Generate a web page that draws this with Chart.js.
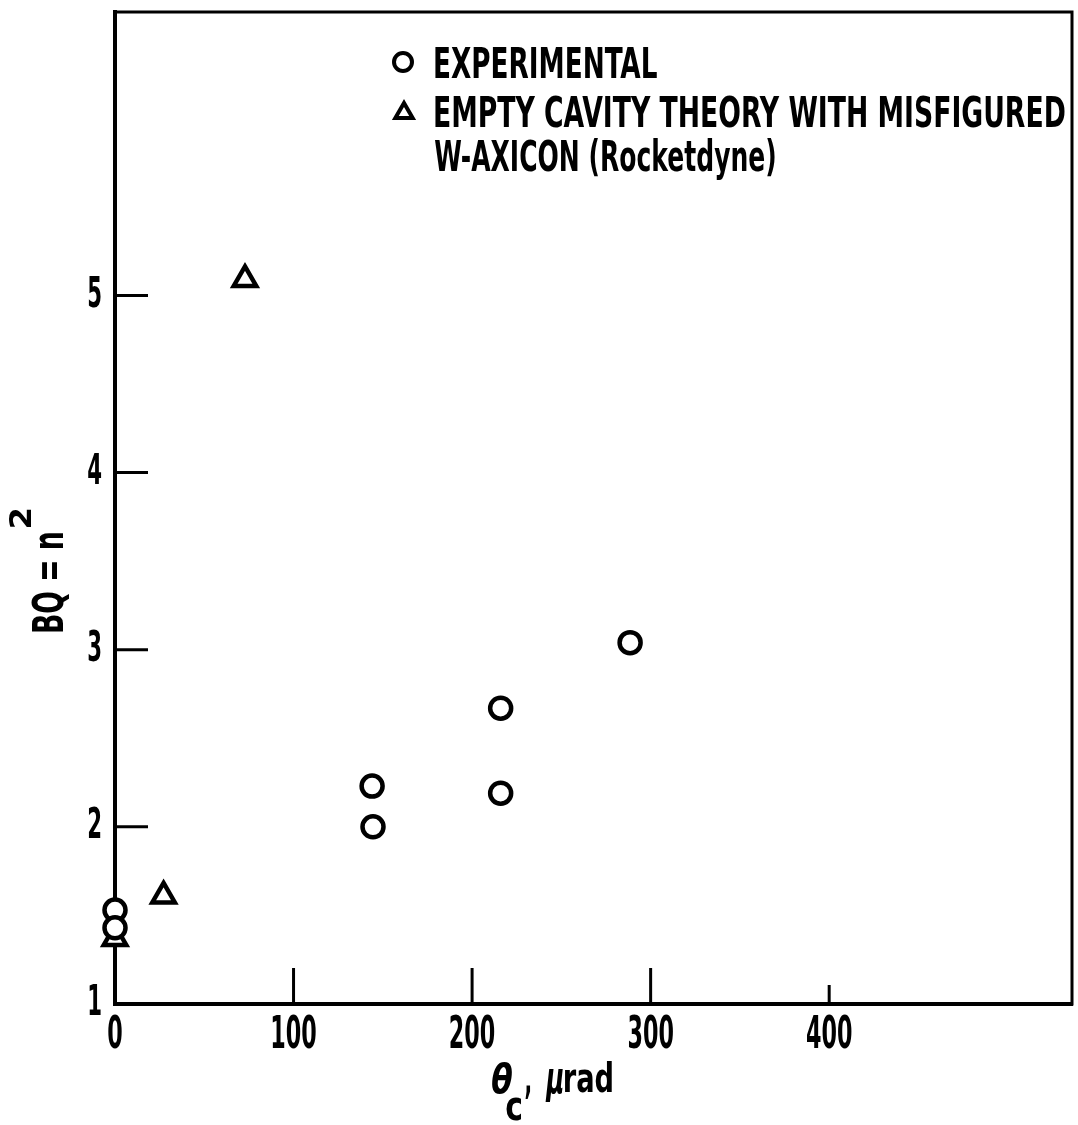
<!DOCTYPE html>
<html><head><meta charset="utf-8">
<script src="https://cdn.jsdelivr.net/npm/chart.js@4"></script>
<style>html,body{margin:0;padding:0;background:#fff;overflow:hidden}#wrap{width:1078px;height:1125px;position:relative;overflow:hidden}canvas{display:block}</style>
</head><body><div id="wrap"><canvas id="c" width="1078" height="1125" style="width:1078px;height:1125px"></canvas></div>
<script>
// ---- data ----
const xTickValues = [0, 100, 200, 300, 400];
const yTickValues = [1, 2, 3, 4, 5];
const expX = [288.5, 216, 144, 216, 144.5, 0, 0];
const expY = [3.04, 2.67, 2.23, 2.19, 2.00, 1.53, 1.43];
const theoryX = [72.8, 27.2, 0];
const theoryY = [5.09, 1.61, 1.37];
const legendLines = ['EXPERIMENTAL', 'EMPTY CAVITY THEORY WITH MISFIGURED', 'W-AXICON (Rocketdyne)'];
const seriesNames = ['EXPERIMENTAL', 'EMPTY CAVITY THEORY WITH MISFIGURED W-AXICON (Rocketdyne)'];

// ---- font pick ----
function hasFont(f){
  const c=document.createElement('canvas').getContext('2d');
  const t='abcdefghijklmnopqrstuvwxyzABCDEFGHIJKLMNOPQRSTUVWXYZ0123456789';
  c.font='bold 40px monospace'; const a=c.measureText(t).width;
  c.font='bold 40px "'+f+'", monospace'; const b=c.measureText(t).width;
  c.font='bold 40px serif'; const a2=c.measureText(t).width;
  c.font='bold 40px "'+f+'", serif'; const b2=c.measureText(t).width;
  return a!==b || a2!==b2;
}
const FAM = ['Liberation Sans Narrow','DejaVu Sans Condensed','Roboto Condensed','Liberation Sans','DejaVu Sans'].find(hasFont) || 'sans-serif';
const TICK_SIZE = 45;
const TICK_SQUEEZE = (function(){
  const c=document.createElement('canvas').getContext('2d');
  c.font='bold '+TICK_SIZE+'px "'+FAM+'"';
  return 15.5 / c.measureText('0').width;
})();

function fitText(ctx, text, x, y, w, font){
  ctx.save();
  ctx.font = font; ctx.textAlign='left'; ctx.textBaseline='alphabetic';
  const m = ctx.measureText(text);
  const ink = m.actualBoundingBoxRight + m.actualBoundingBoxLeft;
  const s = w / ink;
  ctx.translate(x, y); ctx.scale(s, 1);
  ctx.fillText(text, m.actualBoundingBoxLeft, 0);
  ctx.restore();
}

let _origRotate = null;
const decor = {
  id: 'decor',
  beforeDraw(chart){
    // tick labels are rendered by Chart.js; squeeze them horizontally like the condensed original type
    const ctx = chart.ctx;
    _origRotate = ctx.rotate;
    ctx.rotate = function(a){ _origRotate.call(this, a); this.scale(TICK_SQUEEZE, 1); };
  },
  beforeDatasetsDraw(chart){
    const ctx=chart.ctx, a=chart.chartArea, xs=chart.scales.x, ys=chart.scales.y;
    if(_origRotate){ ctx.rotate = _origRotate; _origRotate = null; }
    ctx.save();
    ctx.strokeStyle='#000'; ctx.lineCap='square';
    ctx.lineWidth=3;
    ctx.beginPath(); ctx.moveTo(a.left, a.top); ctx.lineTo(a.right, a.top); ctx.lineTo(a.right, a.bottom); ctx.stroke();
    ctx.lineCap='butt';
    xTickValues.forEach(v=>{
      if(v===xs.min) return;
      const px=xs.getPixelForValue(v), len = (v===400)?19:36;
      ctx.beginPath(); ctx.moveTo(px, a.bottom); ctx.lineTo(px, a.bottom-len); ctx.stroke();
    });
    yTickValues.forEach(v=>{
      if(v===ys.min) return;
      const py=ys.getPixelForValue(v);
      ctx.beginPath(); ctx.moveTo(a.left, py); ctx.lineTo(a.left+33, py); ctx.stroke();
    });
    ctx.restore();
  },
  afterDraw(chart){
    const ctx=chart.ctx;
    if(_origRotate){ ctx.rotate = _origRotate; _origRotate = null; }
    ctx.save();
    // legend
    ctx.strokeStyle='#000'; ctx.lineWidth=4;
    ctx.fillStyle='#fff';
    Chart.helpers.drawPoint(ctx,{pointStyle:'circle',radius:9,borderWidth:4,rotation:0},403,62);
    Chart.helpers.drawPoint(ctx,{pointStyle:'triangle',radius:10,borderWidth:4,rotation:0},404,113);
    ctx.fillStyle='#000';
    const LF='bold 43px "'+FAM+'"';
    fitText(ctx, legendLines[0], 435, 78, 222, LF);
    fitText(ctx, legendLines[1], 435, 127, 630, LF);
    fitText(ctx, legendLines[2], 435, 171, 340, LF);
    // x title
    const TF='bold 40px "'+FAM+'"', TI='italic bold 40px "'+FAM+'"';
    fitText(ctx, '\u03B8', 492, 1093, 20, TI);
    fitText(ctx, 'c', 506, 1120, 15, TF);
    fitText(ctx, ',', 525, 1093, 5, TF);
    fitText(ctx, '\u03BC', 545, 1093, 18, 'italic bold 44px "'+FAM+'"');
    fitText(ctx, 'rad', 565, 1092, 47, TF);
    // y title
    ctx.translate(63, 632); ctx.rotate(-Math.PI/2);
    fitText(ctx, 'BQ = n', 0, 0, 99, 'bold 43px "'+FAM+'"');
    fitText(ctx, '2', 105, -32, 18, 'bold 30px "'+FAM+'"');
    ctx.restore();
  }
};

const tickFont = {family: FAM, size: TICK_SIZE, weight: 'bold'};
new Chart(document.getElementById('c'), {
  type: 'scatter',
  data: {
    datasets: [
      {label: seriesNames[0], data: expX.map((x,i)=>({x:x, y:expY[i]})), pointStyle:'circle', pointRadius:10.5, pointHoverRadius:10.5,
       pointBorderWidth:4.5, pointHoverBorderWidth:4.5, pointBorderColor:'#000', pointBackgroundColor:'#fff', clip:false, showLine:false},
      {label: seriesNames[1], data: theoryX.map((x,i)=>({x:x, y:theoryY[i]})), pointStyle:'triangle', pointRadius:13, pointHoverRadius:13,
       pointBorderWidth:4.5, pointHoverBorderWidth:4.5, pointBorderColor:'#000', pointBackgroundColor:'#fff', clip:false, showLine:false}
    ]
  },
  options: {
    responsive: false, maintainAspectRatio: false, animation: false, events: [], devicePixelRatio: 1,
    layout: {autoPadding: false, padding: {top: 12, right: 6, left: 0, bottom: 0}},
    plugins: {legend: {display: false}, tooltip: {enabled: false}},
    scales: {
      x: {type:'linear', min:0, max:536,
          afterBuildTicks: s=>{ s.ticks = xTickValues.map(v=>({value:v})); },
          afterFit: s=>{ s.height = 121; s.paddingLeft = 0; s.paddingRight = 0; },
          grid: {display:false, drawTicks:false},
          border: {display:true, color:'#000', width:4},
          ticks: {font: tickFont, color:'#000', padding:5, maxRotation:0, autoSkip:false}},
      y: {type:'linear', min:1, max:6.6,
          afterBuildTicks: s=>{ s.ticks = yTickValues.map(v=>({value:v})); },
          afterFit: s=>{ s.width = 115; s.paddingTop = 0; s.paddingBottom = 0; },
          grid: {display:false, drawTicks:false},
          border: {display:true, color:'#000', width:4},
          ticks: {font: {family: FAM, size: 43, weight:'bold'}, color:'#000', padding:13, autoSkip:false}}
    }
  },
  plugins: [decor]
});
</script>
</body></html>
